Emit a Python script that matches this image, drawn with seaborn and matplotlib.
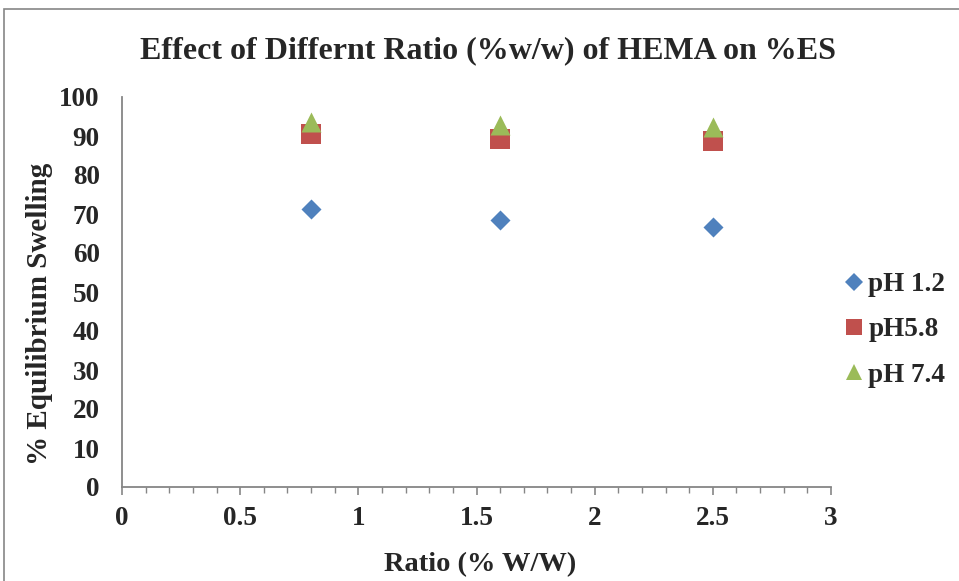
import matplotlib
matplotlib.use("Agg")
import matplotlib.pyplot as plt
import matplotlib.patches as mpatches
from matplotlib.lines import Line2D
from matplotlib.ticker import MultipleLocator
import seaborn as sns
import pandas as pd

ratio = [0.8, 1.6, 2.5]
ph_1_2 = [71.2, 68.5, 66.6]
ph_5_8 = [90.4, 89.2, 88.7]
ph_7_4 = [93.5, 92.8, 92.4]
series_names = ["pH 1.2", "pH5.8", "pH 7.4"]
x_ticks = [0, 0.5, 1, 1.5, 2, 2.5, 3]
y_ticks = list(range(0, 101, 10))

colors = {"pH 1.2": "#4F81BD", "pH5.8": "#C0504D", "pH 7.4": "#9BBB59"}
markers = {"pH 1.2": "D", "pH5.8": "s", "pH 7.4": "^"}
msizes = {"pH 1.2": 10.2, "pH5.8": 14.4, "pH 7.4": 14.4}
leg_sizes = {"pH 1.2": 8.7, "pH5.8": 12.2, "pH 7.4": 12.2}

df = pd.DataFrame({
    "ratio": ratio * 3,
    "value": ph_1_2 + ph_5_8 + ph_7_4,
    "series": [s for s in series_names for _ in ratio],
})

sns.set_style("white")
plt.rcParams["font.family"] = ["Liberation Serif", "DejaVu Serif"]
plt.rcParams["font.weight"] = "bold"

fig = plt.figure(figsize=(9.59, 5.81), dpi=100)
ax = fig.add_axes([122/959, 1 - 487/581, (831-122)/959, (487-97)/581])

for name in series_names:
    sub = df[df["series"] == name]
    sns.scatterplot(data=sub, x="ratio", y="value", ax=ax, marker=markers[name],
                    color=colors[name], s=msizes[name]**2, linewidth=0, legend=False,
                    zorder=3)

ax.set_xlim(0, 3)
ax.set_ylim(0, 100)
ax.set_xticks(x_ticks)
ax.set_xticklabels([f"{t:g}" for t in x_ticks])
ax.set_yticks(y_ticks)
ax.xaxis.set_minor_locator(MultipleLocator(0.1))
for s in ["top", "right"]:
    ax.spines[s].set_visible(False)
for s in ["left", "bottom"]:
    ax.spines[s].set_color("#868686")
    ax.spines[s].set_linewidth(1.3)
ax.tick_params(axis="x", which="major", direction="out", length=6, width=1.2,
               color="#868686", labelsize=19.5, pad=8, bottom=True)
ax.tick_params(axis="x", which="minor", direction="out", length=4, width=1.0,
               color="#868686", bottom=True)
ax.tick_params(axis="y", which="both", length=0, labelsize=19.5, pad=16)
for lab in ax.get_xticklabels() + ax.get_yticklabels():
    lab.set_fontweight("bold")

ax.set_xlabel("")
ax.set_ylabel("")
fig.text(480/959, 1 - 565/581, "Ratio (% W/W)", ha="center", va="center",
         fontsize=20.5, fontweight="bold")
fig.text(40/959, 1 - 314/581, "% Equilibrium Swelling", ha="center", va="center",
         rotation=90, fontsize=21, fontweight="bold")
fig.text(488/959, 1 - 51/581, "Effect of Differnt Ratio (%w/w) of HEMA on %ES",
         ha="center", va="center", fontsize=23, fontweight="bold")

handles = [Line2D([], [], linestyle="none", marker=markers[n], color=colors[n],
                  markersize=leg_sizes[n], markeredgewidth=0) for n in series_names]
leg = fig.legend(handles, series_names, loc="center left",
                 bbox_to_anchor=(821/959, 1 - 330/581), frameon=False,
                 prop={"family": "Liberation Serif", "weight": "bold", "size": 19.5},
                 handlelength=0.6, handletextpad=0.25, labelspacing=0.75)

border = mpatches.Rectangle((4/959, -0.1), 1.2, (1 - 9/581) + 0.1,
                            transform=fig.transFigure, fill=False,
                            edgecolor="#868686", linewidth=1.2)
fig.patches.append(border)

fig.savefig("out.png", dpi=100)
